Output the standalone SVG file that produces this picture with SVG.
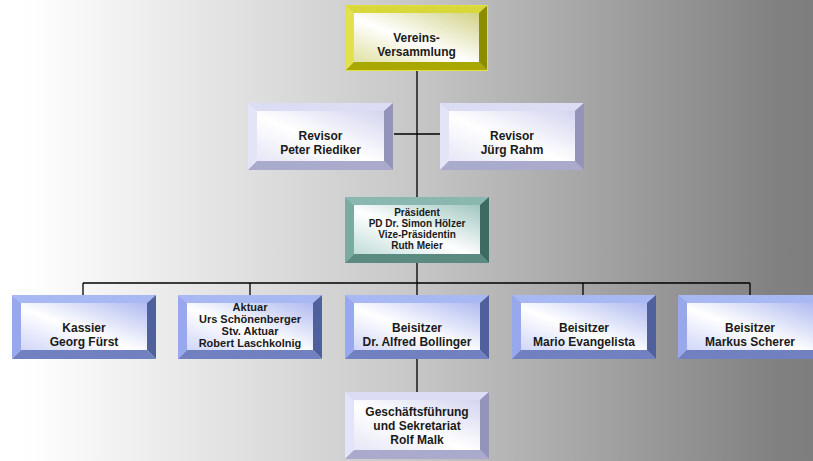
<svg xmlns="http://www.w3.org/2000/svg" width="813" height="461" viewBox="0 0 813 461">
<defs>
<linearGradient id="bg" x1="0" y1="0" x2="1" y2="0">
<stop offset="0" stop-color="#ffffff"/>
<stop offset="0.04" stop-color="#fefefe"/>
<stop offset="0.5" stop-color="#c8c8c8"/>
<stop offset="0.8" stop-color="#999999"/>
<stop offset="0.96" stop-color="#808080"/>
<stop offset="1" stop-color="#7e7e7e"/>
</linearGradient>
<linearGradient id="fy" x1="0" y1="1" x2="1" y2="0"><stop offset="0" stop-color="#e0e0a4"/><stop offset="0.45" stop-color="#ffffff"/><stop offset="1" stop-color="#d2d288"/></linearGradient>
<linearGradient id="fl" x1="0" y1="1" x2="1" y2="0"><stop offset="0" stop-color="#e6e6f6"/><stop offset="0.45" stop-color="#ffffff"/><stop offset="1" stop-color="#d4d4f0"/></linearGradient>
<linearGradient id="ft" x1="0" y1="1" x2="1" y2="0"><stop offset="0" stop-color="#c0dcd8"/><stop offset="0.45" stop-color="#ffffff"/><stop offset="1" stop-color="#a0c6c0"/></linearGradient>
<linearGradient id="fb" x1="0" y1="1" x2="1" y2="0"><stop offset="0" stop-color="#d0d6f8"/><stop offset="0.45" stop-color="#ffffff"/><stop offset="1" stop-color="#b0baf0"/></linearGradient>
</defs>
<style>
.y .t{fill:#d8d83a}.y .l{fill:#e2e24c}.y .r{fill:#8c8c00}.y .b{fill:#a8a800}.y .f{fill:url(#fy)}.y .o{stroke:#e0e040}
.v .t{fill:#dcdcf4}.v .l{fill:#e4e4f8}.v .r{fill:#9494ba}.v .b{fill:#aaaacc}.v .f{fill:url(#fl)}.v .o{stroke:#d8d8f0}
.g .t{fill:#8ab8b0}.g .l{fill:#7aaaa2}.g .r{fill:#3e6a64}.g .b{fill:#5a8a82}.g .f{fill:url(#ft)}.g .o{stroke:#80b0a8}
.u .t{fill:#a8b8f2}.u .l{fill:#98a8ec}.u .r{fill:#50609c}.u .b{fill:#7080c0}.u .f{fill:url(#fb)}.u .o{stroke:#9aaaf0}
.o{fill:none;stroke-width:1}
text{font-family:"Liberation Sans",Arial,sans-serif;font-weight:bold;fill:#1a1a1a;text-anchor:middle}
.s12{font-size:12px}.s11{font-size:11px}.s10{font-size:10px}
.c{stroke:#000;stroke-width:1.3;fill:none}
</style>
<rect x="0" y="0" width="813" height="461" fill="url(#bg)"/>
<g id="connectors">
<path class="c" d="M417 71V197M394 134H440M417 263V283M83 283H750M83 283V295M250 283V295M417 283V295M583 283V295M750 283V295M417 359V392"/>
</g>
<g id="vereinsversammlung" class="y">
<polygon class="t" points="345,5 488,5 479,13 354,13"/>
<polygon class="l" points="345,5 354,13 354,62 345,71"/>
<polygon class="r" points="488,5 488,71 479,62 479,13"/>
<polygon class="b" points="345,71 354,62 479,62 488,71"/>
<rect class="f" x="354" y="13" width="125" height="49"/>
<rect class="o" x="345.5" y="5.5" width="142" height="65"/>
<text class="s12" x="416.5" y="42">Vereins-</text>
<text class="s12" x="416.5" y="56">Versammlung</text>
</g>
<g id="revisor1" class="v">
<polygon class="t" points="248,103 393,103 384,111 257,111"/>
<polygon class="l" points="248,103 257,111 257,161 248,170"/>
<polygon class="r" points="393,103 393,170 384,161 384,111"/>
<polygon class="b" points="248,170 257,161 384,161 393,170"/>
<rect class="f" x="257" y="111" width="127" height="50"/>
<text class="s12" x="320.5" y="140">Revisor</text>
<text class="s12" x="320.5" y="154">Peter Riediker</text>
</g>
<g id="revisor2" class="v">
<polygon class="t" points="440,103 584,103 575,111 449,111"/>
<polygon class="l" points="440,103 449,111 449,161 440,170"/>
<polygon class="r" points="584,103 584,170 575,161 575,111"/>
<polygon class="b" points="440,170 449,161 575,161 584,170"/>
<rect class="f" x="449" y="111" width="126" height="50"/>
<text class="s12" x="512" y="140">Revisor</text>
<text class="s12" x="512" y="154">Jürg Rahm</text>
</g>
<g id="praesident" class="g">
<polygon class="t" points="345,197 489,197 480,205 354,205"/>
<polygon class="l" points="345,197 354,205 354,254 345,263"/>
<polygon class="r" points="489,197 489,263 480,254 480,205"/>
<polygon class="b" points="345,263 354,254 480,254 489,263"/>
<rect class="f" x="354" y="205" width="126" height="49"/>
<text class="s10" x="417" y="216">Präsident</text>
<text class="s10" x="417" y="227">PD Dr. Simon Hölzer</text>
<text class="s10" x="417" y="238">Vize-Präsidentin</text>
<text class="s10" x="417" y="249">Ruth Meier</text>
</g>
<g id="kassier" class="u">
<polygon class="t" points="12,295 156,295 147,303 21,303"/>
<polygon class="l" points="12,295 21,303 21,350 12,359"/>
<polygon class="r" points="156,295 156,359 147,350 147,303"/>
<polygon class="b" points="12,359 21,350 147,350 156,359"/>
<rect class="f" x="21" y="303" width="126" height="47"/>
<text class="s12" x="84" y="332">Kassier</text>
<text class="s12" x="84" y="346">Georg Fürst</text>
</g>
<g id="aktuar" class="u">
<polygon class="t" points="178,295 322,295 313,303 187,303"/>
<polygon class="l" points="178,295 187,303 187,350 178,359"/>
<polygon class="r" points="322,295 322,359 313,350 313,303"/>
<polygon class="b" points="178,359 187,350 313,350 322,359"/>
<rect class="f" x="187" y="303" width="126" height="47"/>
<text class="s11" x="250" y="311">Aktuar</text>
<text class="s11" x="250" y="323">Urs Schönenberger</text>
<text class="s11" x="250" y="335">Stv. Aktuar</text>
<text class="s11" x="250" y="347">Robert Laschkolnig</text>
</g>
<g id="beisitzer1" class="u">
<polygon class="t" points="345,295 489,295 480,303 354,303"/>
<polygon class="l" points="345,295 354,303 354,350 345,359"/>
<polygon class="r" points="489,295 489,359 480,350 480,303"/>
<polygon class="b" points="345,359 354,350 480,350 489,359"/>
<rect class="f" x="354" y="303" width="126" height="47"/>
<text class="s12" x="417" y="332">Beisitzer</text>
<text class="s12" x="417" y="346">Dr. Alfred Bollinger</text>
</g>
<g id="beisitzer2" class="u">
<polygon class="t" points="512,295 656,295 647,303 521,303"/>
<polygon class="l" points="512,295 521,303 521,350 512,359"/>
<polygon class="r" points="656,295 656,359 647,350 647,303"/>
<polygon class="b" points="512,359 521,350 647,350 656,359"/>
<rect class="f" x="521" y="303" width="126" height="47"/>
<text class="s12" x="584" y="332">Beisitzer</text>
<text class="s12" x="584" y="346">Mario Evangelista</text>
</g>
<g id="beisitzer3" class="u">
<polygon class="t" points="678,295 822,295 813,303 687,303"/>
<polygon class="l" points="678,295 687,303 687,350 678,359"/>
<polygon class="r" points="822,295 822,359 813,350 813,303"/>
<polygon class="b" points="678,359 687,350 813,350 822,359"/>
<rect class="f" x="687" y="303" width="126" height="47"/>
<text class="s12" x="750" y="332">Beisitzer</text>
<text class="s12" x="750" y="346">Markus Scherer</text>
</g>
<g id="geschaeftsfuehrung" class="v">
<polygon class="t" points="345,392 489,392 480,400 354,400"/>
<polygon class="l" points="345,392 354,400 354,450 345,459"/>
<polygon class="r" points="489,392 489,459 480,450 480,400"/>
<polygon class="b" points="345,459 354,450 480,450 489,459"/>
<rect class="f" x="354" y="400" width="126" height="50"/>
<text class="s12" x="417" y="416">Geschäftsführung</text>
<text class="s12" x="417" y="430">und Sekretariat</text>
<text class="s12" x="417" y="444">Rolf Malk</text>
</g>
</svg>
